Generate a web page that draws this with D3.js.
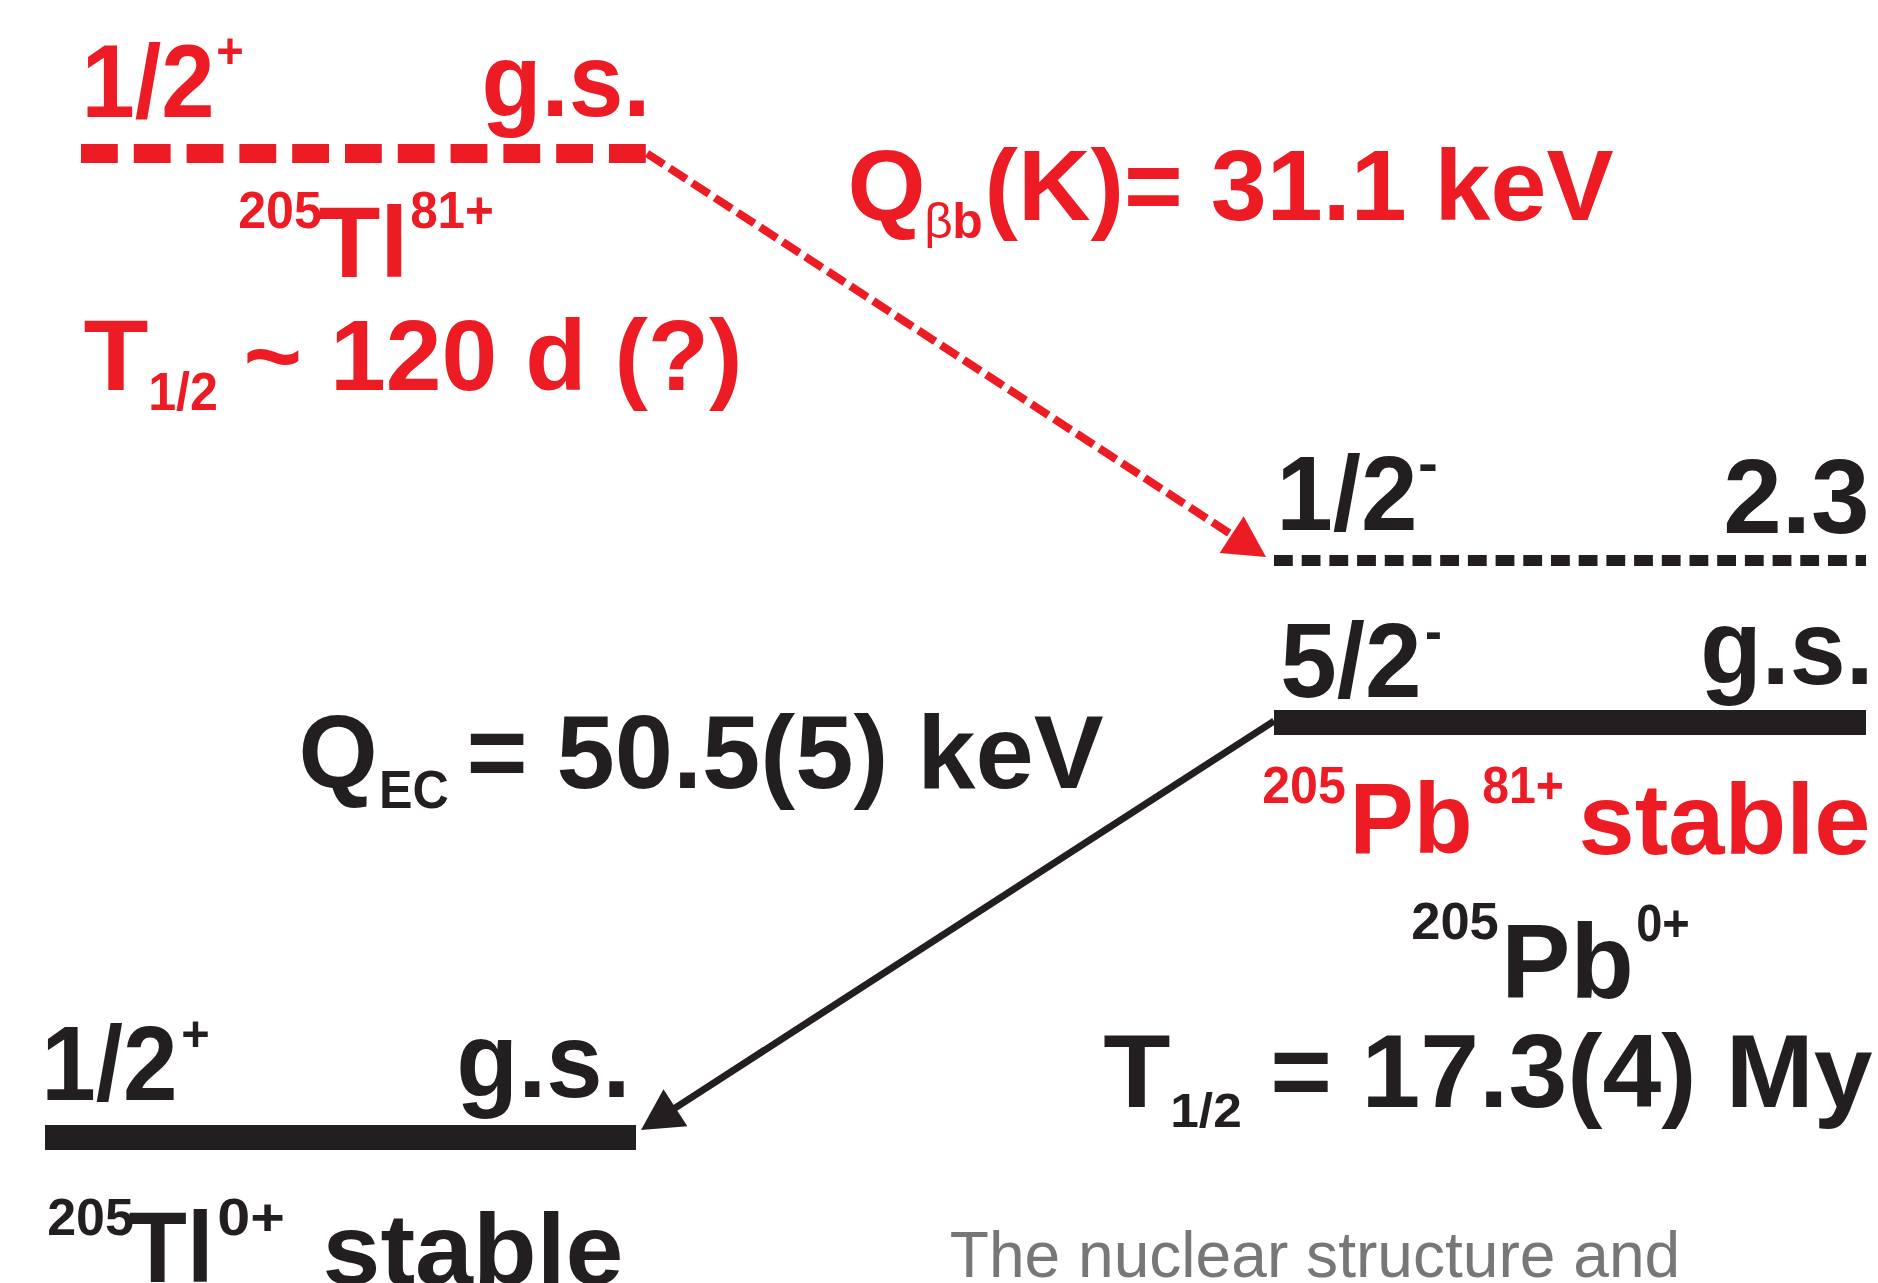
<!DOCTYPE html>
<html>
<head>
<meta charset="utf-8">
<title>205Tl / 205Pb bound-state beta decay and electron capture</title>
<script src="https://cdn.jsdelivr.net/npm/d3@7"></script>
<style>
  html, body { margin: 0; padding: 0; background: #ffffff; }
  svg { display: block; font-family: "Liberation Sans", Arial, Helvetica, sans-serif; }
</style>
</head>
<body>
<div id="chart"></div>
<script>
// ---- data ------------------------------------------------------------
// nuclear levels (top Tl81+, Pb excited state, Pb ground state, neutral Tl)
const levelIds      = ["tl81", "pb23", "pbgs", "tl0"];
const levelSpins    = ["1/2", "1/2", "5/2", "1/2"];
const levelParities = ["+", "-", "-", "+"];
const levelEnergies = ["g.s.", "2.3", "g.s.", "g.s."];

// nuclide labels
const nuclideIds    = ["tl81", "pb81", "pb0", "tl0"];
const massNumbers   = ["205", "205", "205", "205"];
const elements      = ["Tl", "Pb", "Pb", "Tl"];
const chargeStates  = ["81+", "81+", "0+", "0+"];
const stability     = ["", "stable", "", "stable"];

// half-lives
const halfLifeIds   = ["tl81", "pb0"];
const halfLives     = ["~ 120 d (?)", "= 17.3(4) My"];

// decay Q values: subscript is split into [symbol part, letter part]
const qIds          = ["bb", "ec"];
const qSubscripts   = [["\u03B2", "b"], ["", "EC"]];
const qValues       = ["(K)= 31.1 keV", "= 50.5(5) keV"];

// transitions: from level -> to level
const transitions   = [["tl81", "pb23"], ["pbgs", "tl0"]];

const caption = "The nuclear structure and";

// ---- drawing ---------------------------------------------------------
const W = 1878, H = 1283;
const RED = "#ED1C24", BLACK = "#231F20", GREY = "#777777";

const svg = d3.select("#chart").append("svg")
  .attr("width", W).attr("height", H)
  .attr("viewBox", `0 0 ${W} ${H}`);
svg.append("rect").attr("width", W).attr("height", H).attr("fill", "#fff");

// level geometry
const levelY   = d3.scaleOrdinal().domain(levelIds).range([153.5, 560.5, 722.5, 1137.5]);
const levelX0  = d3.scaleOrdinal().domain(levelIds).range([81, 1274, 1274, 45]);
const levelX1  = d3.scaleOrdinal().domain(levelIds).range([647, 1866, 1866, 636]);
const levelW   = d3.scaleOrdinal().domain(levelIds).range([19, 11, 25, 25]);
const levelDash= d3.scaleOrdinal().domain(levelIds).range(["36.8,16", "18.8,8.9", null, null]);
const levelCol = d3.scaleOrdinal().domain(levelIds).range([RED, BLACK, BLACK, BLACK]);

// text placement: one run = [inkLeft, inkRight, baseline, fontSize]
function run(g, s, r, color, weight) {
  if (!s) return;
  const [x0, x1, base, fs] = r;
  const pad = 0.035 * fs;
  g.append("text")
    .attr("x", x0 - pad)
    .attr("y", base)
    .attr("font-size", fs)
    .attr("font-weight", weight || "bold")
    .attr("fill", color)
    .attr("textLength", x1 - x0 + 2 * pad)
    .attr("lengthAdjust", "spacingAndGlyphs")
    .text(s);
}

// level lines
svg.append("g").selectAll("line").data(levelIds).join("line")
  .attr("x1", d => levelX0(d)).attr("x2", d => levelX1(d))
  .attr("y1", d => levelY(d)).attr("y2", d => levelY(d))
  .attr("stroke", d => levelCol(d))
  .attr("stroke-width", d => levelW(d))
  .attr("stroke-dasharray", d => levelDash(d));

// spin / parity / energy labels above each level
const spinLayout = {
  tl81: { spin: [85, 211, 117, 103], par: [218, 242, 68, 50],  en: [485, 647, 116, 103] },
  pb23: { spin: [1280, 1414, 530, 105], par: [1420, 1436, 482, 56], en: [1727, 1866, 533, 105] },
  pbgs: { spin: [1284, 1418, 697, 105], par: [1427, 1440, 650, 56], en: [1704, 1870, 684, 105] },
  tl0:  { spin: [45, 174, 1100, 105],  par: [183, 208, 1051, 50], en: [460, 627, 1097, 105] }
};
const gLevels = svg.append("g");
levelIds.forEach((id, i) => {
  const L = spinLayout[id], c = levelCol(id);
  run(gLevels, levelSpins[i], L.spin, c);
  run(gLevels, levelParities[i], L.par, c);
  run(gLevels, levelEnergies[i], L.en, c);
});

// nuclide labels
const nucColor = { tl81: RED, pb81: RED, pb0: BLACK, tl0: BLACK };
const nucLayout = {
  tl81: { A: [240, 320, 228, 52],   el: [322, 405, 277, 100],   q: [412, 492, 228, 52] },
  pb81: { A: [1264, 1344, 803, 52], el: [1353, 1469, 853, 100], q: [1484, 1562, 803, 52], st: [1582, 1867, 854, 100] },
  pb0:  { A: [1413, 1497, 939, 52], el: [1505, 1630, 998, 105], q: [1638, 1688, 941, 52] },
  tl0:  { A: [49, 132, 1235, 52],   el: [132, 210, 1282, 100],  q: [219, 283, 1235, 52],  st: [326, 620, 1284, 100] }
};
const gNuc = svg.append("g");
nuclideIds.forEach((id, i) => {
  const L = nucLayout[id], c = nucColor[id];
  run(gNuc, massNumbers[i], L.A, c);
  run(gNuc, elements[i], L.el, c);
  run(gNuc, chargeStates[i], L.q, c);
  if (stability[i]) run(gNuc, stability[i], L.st, c);
});

// half-lives
const hlColor = { tl81: RED, pb0: BLACK };
const hlLayout = {
  tl81: { T: [87, 145, 390, 100],     sub: [150, 216, 410, 53],   v: [247, 739, 390, 100] },
  pb0:  { T: [1107, 1167, 1107, 104], sub: [1172, 1240, 1127, 49], v: [1274, 1869, 1107, 104] }
};
const gHl = svg.append("g");
halfLifeIds.forEach((id, i) => {
  const L = hlLayout[id], c = hlColor[id];
  run(gHl, "T", L.T, c);
  run(gHl, "1/2", L.sub, c);
  run(gHl, halfLives[i], L.v, c);
});

// Q values
const qColor = { bb: RED, ec: BLACK };
const qLayout = {
  bb: { Q: [851, 922, 220, 101], sym: [926, 951, 238, 50], sub: [954, 981, 238, 50], v: [988, 1610, 220, 101] },
  ec: { Q: [302, 374, 788, 103], sym: null,                sub: [381, 447, 808, 54], v: [470, 1100, 788, 103] }
};
const gQ = svg.append("g");
qIds.forEach((id, i) => {
  const L = qLayout[id], c = qColor[id];
  run(gQ, "Q", L.Q, c);
  if (L.sym) run(gQ, qSubscripts[i][0], L.sym, c, "normal");
  run(gQ, qSubscripts[i][1], L.sub, c);
  run(gQ, qValues[i], L.v, c);
});

// transition arrows
const trStyle = [
  { color: RED,   width: 8, dash: "20,7", from: [0, 0],  tip: [-8, -3.5] },
  { color: BLACK, width: 7, dash: null,   from: [0, -1.5], tip: [5, -7.5] }
];
const gTr = svg.append("g");
transitions.forEach(([a, b], i) => {
  const st = trStyle[i];
  const start = i === 0
    ? [levelX1(a) + st.from[0], levelY(a) + st.from[1]]
    : [levelX0(a) + st.from[0], levelY(a) + st.from[1]];
  const tip = i === 0
    ? [levelX0(b) + st.tip[0], levelY(b) + st.tip[1]]
    : [levelX1(b) + st.tip[0], levelY(b) + st.tip[1]];
  const dx = tip[0] - start[0], dy = tip[1] - start[1];
  const len = Math.hypot(dx, dy), ux = dx / len, uy = dy / len;
  const headL = 41, headW = 22;
  const base = [tip[0] - headL * ux, tip[1] - headL * uy];
  gTr.append("path")
    .attr("d", d3.line()([start, [base[0] + 2 * ux, base[1] + 2 * uy]]))
    .attr("stroke", st.color).attr("stroke-width", st.width)
    .attr("stroke-dasharray", st.dash).attr("fill", "none");
  gTr.append("path")
    .attr("d", d3.line()([tip,
      [base[0] - headW * uy, base[1] + headW * ux],
      [base[0] + headW * uy, base[1] - headW * ux]]) + "Z")
    .attr("fill", st.color);
});

// caption text at the bottom
run(svg, caption, [952, 1678, 1277, 65], GREY, "normal");
</script>
</body>
</html>
